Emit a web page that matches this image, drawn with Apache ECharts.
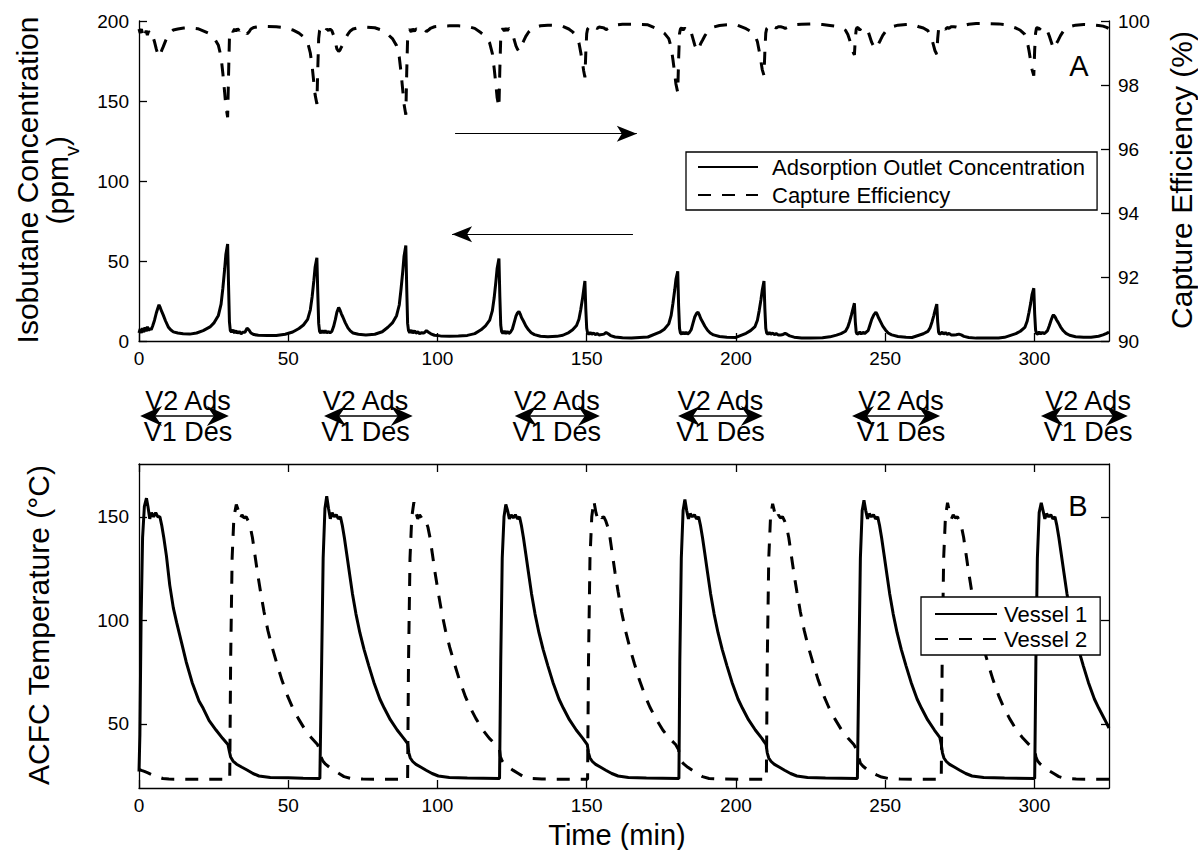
<!DOCTYPE html>
<html>
<head>
<meta charset="utf-8">
<script src="https://cdn.jsdelivr.net/npm/echarts@6.0.0/dist/echarts.min.js"></script>
<style>html,body{margin:0;padding:0;background:#fff}#c{width:1198px;height:850px}</style>
</head>
<body>
<div id="c"></div>
<script>
const FONT = '"Liberation Sans", Arial, Helvetica, sans-serif';

// ---- tick labels ----
const timeTicks = [0, 50, 100, 150, 200, 250, 300];
const concTicks = [0, 50, 100, 150, 200];
const effTicks = [90, 92, 94, 96, 98, 100];
const tempTicks = [50, 100, 150];

// ---- panel A: adsorption outlet concentration (ppmv) [time, value] ----
const adsorptionOutlet = [
[0,5],[0.4,7.5],[0.8,5],[1.2,8],[1.6,5.5],[2,8.5],[2.4,6],[2.8,9],[3.2,6.5],[3.6,8],[4.1,7],[4.6,9.5],[5.2,13],[5.8,17.5],[6.3,20.5],[6.7,22.6],[7.1,21],[7.6,18.5],[8.1,16.3],[8.9,12.5],[9.8,8.8],[10.6,7],[11.5,5.7],[13,5],[14.8,4.6],[17,4.3],
[19.3,5],[21.5,6.5],[23.8,8.8],[25.2,11.5],[26.6,16],[27.5,23],[28.1,33],[28.7,45],[29.1,54],[29.7,60.6],[30,35],[30.3,12],[30.6,6.5],[31,5.5],[31.5,7],[32,5],[32.5,6.5],[33,4.8],[33.6,6],[34.2,4.5],[34.8,5.5],[35.5,5.5],[36.2,8],[36.8,7],[37.5,5],[38.5,4],[40,3.6],[43,3.4],[46,3.5],
[49,4.2],[51.5,5.6],[53.6,7.8],[55.1,10],[56.5,13.5],[57.4,19.5],[58,27.5],[58.6,38],[59,46],[59.6,52],[59.9,30],[60.2,11],[60.5,6],[60.9,5],[61.4,6.5],[61.9,5],[62.4,6.5],[62.9,5],[63.5,6],[64,5],[64.6,6],[65.2,9],[65.8,13.5],[66.3,18],[66.9,21],[67.3,19.5],[67.8,17],[68.3,15],[69.1,11.5],[70,8.2],[70.8,6.3],[71.7,5],[73.5,4.2],[76,3.8],
[79,4.2],[81.5,5.8],[83.4,8.6],[84.9,11.3],[86.3,15.8],[87.2,22.5],[87.8,32.5],[88.4,44],[88.8,53],[89.4,59.7],[89.7,33],[90,11],[90.3,6.5],[90.7,5.2],[91.2,6.8],[91.7,5],[92.3,6.4],[92.8,4.8],[93.4,5.8],[94,4.6],[94.7,5.2],[95.5,5],[96.3,6.5],[97,5.5],[97.8,4.5],[99,3.6],[101,3.2],[104,3],[107,3.1],
[110,3.5],[112.5,4.6],[114.6,7],[116.1,9.5],[117.5,13],[118.4,19],[119,27],[119.6,37.5],[120,45.5],[120.6,51.6],[120.9,28],[121.2,10],[121.5,5.8],[121.9,4.8],[122.4,6.2],[122.9,4.6],[123.4,6],[123.9,4.7],[124.5,5.6],[125.1,7.5],[125.7,11.5],[126.3,15.5],[126.8,17.5],[127.3,18.5],[127.7,17],[128.2,14.5],[128.8,12.5],[129.6,9.5],[130.5,7],[131.4,5.2],[132.5,4],[134.5,3],[137,2.7],
[140,2.9],[142,3.6],[144,5.3],[145.3,7],[146.6,9.7],[147.4,13.6],[148,19.5],[148.6,26.5],[149,32],[149.4,37.5],[149.7,20],[150,8],[150.3,5],[150.7,4.2],[151.2,5.3],[151.7,4.2],[152.3,5],[152.9,4],[153.5,4.6],[154.2,3.8],[155,4],[155.8,4.3],[156.5,5.3],[157.2,4.5],[158,3.4],[159.5,2.5],[162,2],[165,1.9],
[170.5,2.5],[174.5,5.5],[176,7.4],[177.5,10.7],[178.3,16],[178.9,23.6],[179.5,32],[179.9,38.5],[180.5,43.5],[180.8,22],[181.1,8],[181.4,5],[181.8,4.3],[182.3,5.6],[182.8,4.3],[183.3,5.5],[183.8,4.4],[184.4,5.3],[185,7],[185.6,11],[186.2,15],[186.8,17.2],[187.3,18],[187.7,16.5],[188.2,14],[188.8,12],[189.6,9.2],[190.5,6.7],[191.4,5],[192.5,3.8],[194.5,2.8],[197,2.3],[200,2.2],
[203.4,4.8],[204.9,6.5],[206.4,9],[207.2,13],[207.8,19],[208.4,26],[208.8,31.5],[209.4,37.5],[209.7,20],[210,8],[210.3,5],[210.7,4.2],[211.2,5.3],[211.7,4.2],[212.3,5],[212.9,4],[213.5,4.6],[214.2,3.8],[215,3.8],[215.8,4.1],[216.5,4.8],[217.2,4.1],[218,3.2],[219.5,2.4],[222,1.9],[225,1.8],
[229,2],[231.5,2.6],[233.7,3.7],[235.2,4.6],[236.7,6.1],[237.5,8.7],[238.1,12.2],[238.7,16.3],[239.1,19.3],[239.7,23.6],[240,12],[240.3,5.5],[240.6,4.2],[241,4.6],[241.5,5.6],[242,4.4],[242.6,5.5],[243.1,4.6],[243.7,5.6],[244.3,6.5],[244.9,10],[245.5,13.5],[246.2,16.3],[246.9,18],[247.3,16.7],[247.8,14.5],[248.4,12.3],[249.2,9.3],[250.1,6.9],[251,5],[252.2,3.8],[254.3,2.8],[257,2.3],[259,2.2],
[261.3,3.6],[262.8,4.5],[264.3,6],[265.1,8.5],[265.7,11.9],[266.3,15.9],[266.7,19],[267.3,23],[267.6,12],[267.9,5.5],[268.2,4.2],[268.6,4.6],[269.1,5.5],[269.6,4.3],[270.2,5.3],[270.8,4.1],[271.4,4.8],[272.1,3.8],[273,3.7],[273.8,3.9],[274.7,4.3],[275.5,3.8],[276.4,2.9],[278,2.2],[280.5,1.8],[284,1.8],
[288,1.9],[290,2.3],[293.8,4.6],[295.3,6.1],[296.8,8.5],[297.6,12.5],[298.2,18],[298.8,24],[299.2,29],[299.8,33],[300.1,17],[300.4,7],[300.7,4.6],[301.1,4.4],[301.6,5.6],[302.1,4.4],[302.7,5.5],[303.2,4.5],[303.8,5.4],[304.4,6.5],[305,9.5],[305.6,13],[306.1,15.5],[306.4,16.3],[306.9,15.2],[307.4,13.3],[308,11.5],[308.8,8.7],[309.7,6.4],[310.6,4.8],[311.8,3.6],[313.8,2.7],[316.5,2.3],[319,2.4],[321.5,3],[323,3.8],[324.2,4.8],[325,5.5]
];

// ---- panel A: capture efficiency (%) [time, value] ----
const captureEfficiency = [
[0,99.75],[0.4,99.62],[0.8,99.75],[1.2,99.6],[1.6,99.73],[2,99.58],[2.4,99.7],[2.8,99.56],[3.2,99.68],[3.6,99.6],[4.1,99.65],[4.6,99.53],[5.2,99.35],[5.8,99.12],[6.3,98.97],[6.7,98.88],[7.1,98.95],[7.6,99.08],[8.1,99.19],[8.9,99.38],[9.8,99.56],[10.6,99.65],[11.5,99.72],[13,99.75],[15,99.78],[17,99.79],
[19.7,99.76],[21.5,99.69],[23.7,99.6],[25.2,99.47],[26.6,99.24],[27.5,98.88],[28.1,98.36],[28.7,97.76],[29.1,97.33],[29.7,96.99],[30,98.3],[30.3,99.45],[30.6,99.68],[31,99.73],[31.5,99.66],[32,99.75],[32.5,99.68],[33,99.76],[33.6,99.7],[34.2,99.77],[34.8,99.72],[35.5,99.72],[36.2,99.6],[36.8,99.65],[37.5,99.75],[38.5,99.8],[40,99.82],[43,99.83],[46,99.82],
[49,99.79],[51.5,99.72],[53.6,99.62],[55.1,99.51],[56.5,99.33],[57.4,99],[58,98.6],[58.6,98.06],[59,97.7],[59.6,97.41],[59.9,98.5],[60.2,99.45],[60.5,99.7],[60.9,99.75],[61.4,99.68],[61.9,99.75],[62.4,99.68],[62.9,99.75],[63.5,99.7],[64,99.75],[64.6,99.7],[65.2,99.55],[65.8,99.33],[66.3,99.13],[66.9,99.05],[67.3,99.08],[67.8,99.18],[68.3,99.27],[69.1,99.44],[70,99.59],[70.8,99.69],[71.7,99.75],[73.5,99.79],[76,99.81],
[79,99.79],[81.5,99.71],[83.4,99.58],[84.9,99.45],[86.3,99.23],[87.2,98.88],[87.8,98.39],[88.4,97.81],[88.8,97.4],[89.4,97.07],[89.7,98.4],[90,99.45],[90.3,99.68],[90.7,99.74],[91.2,99.66],[91.7,99.75],[92.3,99.68],[92.8,99.76],[93.4,99.71],[94,99.77],[94.7,99.74],[95.5,99.75],[96.3,99.67],[97,99.72],[97.8,99.78],[99,99.82],[101,99.84],[104,99.85],[107,99.85],
[110,99.83],[112.5,99.77],[114.6,99.63],[116.1,99.52],[117.5,99.31],[118.4,98.98],[119,98.52],[119.6,97.99],[120,97.6],[120.6,97.3],[120.9,98.5],[121.2,99.48],[121.5,99.71],[121.9,99.76],[122.4,99.69],[122.9,99.77],[123.4,99.7],[123.9,99.77],[124.5,99.72],[125.1,99.62],[125.7,99.42],[126.3,99.22],[126.8,99.12],[127.3,99.05],[127.7,99.13],[128.2,99.26],[128.8,99.36],[129.6,99.52],[130.5,99.65],[131.4,99.74],[132.5,99.8],[134.5,99.85],[137,99.87],
[140,99.86],[142,99.83],[144,99.75],[145.3,99.66],[146.6,99.53],[147.4,99.32],[148,99.02],[148.6,98.68],[149,98.44],[149.4,98.24],[149.7,99],[150,99.6],[150.3,99.75],[150.7,99.79],[151.2,99.73],[151.7,99.79],[152.3,99.75],[152.9,99.8],[153.5,99.77],[154.2,99.81],[155,99.8],[155.8,99.78],[156.5,99.73],[157.2,99.77],[158,99.83],[159.5,99.87],[162,99.9],[165,99.9],
[170.5,99.88],[174.5,99.72],[176,99.62],[177.5,99.45],[178.3,99.18],[178.9,98.79],[179.5,98.35],[179.9,98.03],[180.5,97.77],[180.8,98.8],[181.1,99.6],[181.4,99.75],[181.8,99.78],[182.3,99.72],[182.8,99.78],[183.3,99.72],[183.8,99.78],[184.4,99.73],[185,99.65],[185.6,99.45],[186.2,99.25],[186.8,99.12],[187.3,99.07],[187.7,99.17],[188.2,99.3],[188.8,99.4],[189.6,99.54],[190.5,99.66],[191.4,99.75],[192.5,99.81],[194.5,99.86],[197,99.88],[200,99.89],
[203.4,99.76],[204.9,99.68],[206.4,99.56],[207.2,99.35],[207.8,99.06],[208.4,98.73],[208.8,98.49],[209.4,98.3],[209.7,99.05],[210,99.62],[210.3,99.76],[210.7,99.8],[211.2,99.74],[211.7,99.8],[212.3,99.76],[212.9,99.81],[213.5,99.78],[214.2,99.82],[215,99.82],[215.8,99.8],[216.5,99.77],[217.2,99.8],[218,99.85],[219.5,99.88],[222,99.9],[225,99.91],
[229,99.89],[231.5,99.86],[233.7,99.83],[235.2,99.78],[236.7,99.71],[237.5,99.58],[238.1,99.41],[238.7,99.2],[239.1,99.06],[239.7,98.94],[240,99.45],[240.3,99.74],[240.6,99.8],[241,99.78],[241.5,99.72],[242,99.78],[242.6,99.73],[243.1,99.77],[243.7,99.72],[244.3,99.67],[244.9,99.5],[245.5,99.33],[246.2,99.2],[246.9,99.13],[247.3,99.18],[247.8,99.29],[248.4,99.4],[249.2,99.55],[250.1,99.67],[251,99.76],[252.2,99.82],[254.3,99.87],[257,99.89],[259,99.9],
[261.3,99.82],[262.8,99.78],[264.3,99.7],[265.1,99.58],[265.7,99.41],[266.3,99.21],[266.7,99.07],[267.3,98.96],[267.6,99.45],[267.9,99.74],[268.2,99.8],[268.6,99.78],[269.1,99.73],[269.6,99.79],[270.2,99.74],[270.8,99.8],[271.4,99.77],[272.1,99.82],[273,99.82],[273.8,99.81],[274.7,99.79],[275.5,99.82],[276.4,99.86],[278,99.9],[280.5,99.92],[284,99.92],
[288,99.91],[290,99.89],[293.8,99.78],[295.3,99.71],[296.8,99.58],[297.6,99.37],[298.2,99.07],[298.8,98.73],[299.2,98.49],[299.8,98.29],[300.1,99.1],[300.4,99.62],[300.7,99.78],[301.1,99.79],[301.6,99.73],[302.1,99.79],[302.7,99.73],[303.2,99.78],[303.8,99.74],[304.4,99.68],[305,99.53],[305.6,99.36],[306.1,99.22],[306.4,99.13],[306.9,99.2],[307.4,99.3],[308,99.4],[308.8,99.55],[309.7,99.68],[310.6,99.76],[311.8,99.82],[313.8,99.87],[316.5,99.89],[319,99.88],[321.5,99.86],[323,99.84],[324.2,99.8],[325,99.76]
];

// ---- panel B: ACFC temperature (deg C) [time, value] ----
const vessel1 = [
[0,27],[0.3,45],[0.7,100],[1.2,140],[1.8,155],[2.5,159],[3,155],[3.6,149],[4.2,152],[4.9,150],[5.6,152],[6.3,150],[7,150],[7.6,146],[8.3,140],[9.2,131],[10.3,117],[11.5,106],[12.6,99],[14.3,89],[15.8,80],[17.8,70],[20.1,61],[21.5,57.5],[23.5,51.5],[25.8,47],[28,43],[29.8,40],[30.3,36.5],[30.7,34],[31.5,32],[32.7,30.5],[34.5,29],[36.2,27.7],[38.2,26],[40.2,24.8],[44,24.1],[50,23.9],[55,23.7],[60.6,23.6],
[61.2,80],[61.7,130],[62.3,154],[62.9,160],[63.5,154],[64.1,149],[64.7,152],[65.4,150],[66.1,151],[66.8,149],[67.5,150],[68.1,146],[68.8,140],[69.6,132],[70.5,123],[71.5,113],[72.7,103],[74,94],[75.4,86],[77,78],[78.7,70],[80.7,62],[82.2,57.5],[84.2,52],[86.5,47],[88.7,43],[90,40.5],[90.4,36],[90.9,33.5],[91.7,31.8],[92.8,30.4],[94.5,29],[96.2,27.6],[98.2,26],[100.3,24.8],[104,24.1],[110,23.8],[120.8,23.6],
[121.2,80],[121.7,130],[122.3,150],[122.9,156],[123.5,153],[124.1,149],[124.7,151],[125.4,149.5],[126.1,151],[126.8,149],[127.5,150],[128.1,146],[128.8,140],[129.6,132],[130.5,123],[131.5,113],[132.7,103],[134,94],[135.4,86],[137,78],[138.7,70],[140.7,62],[142.2,57.5],[144.2,52],[146.5,47],[148.7,43],[150.2,40],[150.6,36],[151.1,33.5],[151.9,31.8],[153,30.4],[154.7,29],[156.4,27.6],[158.4,26],[160.5,24.8],[164,24.1],[170,23.8],[180.9,23.6],
[181.2,80],[181.7,130],[182.3,153],[182.9,158.4],[183.5,153],[184.1,149],[184.7,151.5],[185.4,150],[186.1,151],[186.8,149],[187.5,150],[188.1,146],[188.8,140],[189.6,132],[190.5,123],[191.5,113],[192.7,103],[194,94],[195.4,86],[197,78],[198.7,70],[200.7,62],[202.2,57.5],[204.2,52],[206.5,47],[208.7,43],[210.1,40],[210.5,36],[211,33.5],[211.8,31.8],[212.9,30.4],[214.6,29],[216.3,27.6],[218.3,26],[220.4,24.8],[224,24.1],[230,23.8],[240.7,23.6],
[241.2,80],[241.7,130],[242.3,153],[242.9,158],[243.5,153],[244.1,149],[244.7,151.5],[245.4,150],[246.1,151],[246.8,149],[247.5,150],[248.1,146],[248.8,140],[249.6,132],[250.5,123],[251.5,113],[252.7,103],[254,94],[255.4,86],[257,78],[258.7,70],[260.7,62],[262.2,57.5],[264.2,52],[266.5,47],[268.3,43.5],[268.8,40],[269.2,36],[269.7,33.5],[270.5,31.8],[271.6,30.4],[273.3,29],[275,27.6],[277,26],[279.1,24.8],[283,24.1],[290,23.8],[300.1,23.6],
[300.5,80],[301,130],[301.6,152],[302.3,156.8],[302.9,153],[303.5,149],[304.1,151.5],[304.8,150],[305.5,151],[306.2,149],[306.9,150],[307.5,146],[308.2,140],[309,132],[309.9,123],[310.9,113],[312.1,103],[313.4,94],[314.8,86],[316.4,78],[318.1,70],[320.1,62],[321.6,57.5],[323.6,52],[325,48]
];

const vessel2 = [
[0,28],[0.8,27.5],[1.8,27],[3,26.3],[4.5,25.3],[6,24.5],[8,23.6],[10,23.3],[20,23.2],[30.4,23.2],
[30.7,80],[31.2,130],[31.8,150],[32.6,155.9],[33.3,153],[33.9,149],[34.5,151],[35.2,149.5],[35.9,150],[36.6,148],[37.3,145],[38,140],[38.8,132],[39.7,123],[40.7,114],[41.9,104],[43.2,95],[44.6,87],[46.2,79],[47.9,71],[49.9,63],[51.4,58],[53.4,52.5],[55.7,47],[57.9,43],[59.8,40],[60.6,37.5],[61,34],[61.6,32],[62.5,30.5],[63.8,29],[65.3,27.5],[67,26],[68.7,24.5],[71,23.6],[75,23.3],[90,23.2],
[90.3,80],[90.8,130],[91.4,150],[92.1,157],[92.8,152],[93.4,149],[94,151],[94.7,149.5],[95.4,150],[96.1,148],[96.8,145],[97.5,140],[98.3,132],[99.2,123],[100.2,114],[101.4,104],[102.7,95],[104.1,87],[105.7,79],[107.4,71],[109.4,63],[110.9,58],[112.9,52.5],[115.2,47],[117.4,43],[119.5,40],[120.8,37.5],[121.1,34],[121.7,32],[122.6,30.5],[123.9,29],[125.4,27.5],[127.1,26],[128.8,24.5],[131,23.6],[135,23.3],[150.3,23.2],
[150.6,80],[151.1,130],[151.7,150],[152.4,157.7],[153.1,152],[153.7,149],[154.3,151],[155,149.5],[155.7,150],[156.4,148],[157.1,145],[157.8,140],[158.6,132],[159.5,123],[160.5,114],[161.7,104],[163,95],[164.4,87],[166,79],[167.7,71],[169.7,63],[171.2,58],[173.2,52.5],[175.5,47],[177.7,43],[179.8,40],[180.8,37.5],[181.1,34],[181.7,32],[182.6,30.5],[183.9,29],[185.4,27.5],[187.1,26],[188.8,24.5],[191,23.6],[195,23.3],[210.2,23.2],
[210.5,80],[211,130],[211.6,150],[212.3,156.3],[213,152],[213.6,149],[214.2,151],[214.9,149.5],[215.6,150],[216.3,148],[217,145],[217.7,140],[218.5,132],[219.4,123],[220.4,114],[221.6,104],[222.9,95],[224.3,87],[225.9,79],[227.6,71],[229.6,63],[231.1,58],[233.1,52.5],[235.4,47],[237.6,43],[239.5,40],[240.7,37],[241.1,34],[241.7,31],[242.6,29.5],[243.9,28],[245.4,26.5],[247.1,25.3],[248.8,24.3],[251,23.6],[255,23.3],[268.8,23.2],
[269.1,80],[269.6,130],[270.2,150],[270.9,156.8],[271.6,152],[272.2,149],[272.8,151],[273.5,149.5],[274.2,150],[274.9,148],[275.6,145],[276.3,140],[277.1,132],[278,123],[279,114],[280.2,104],[281.5,95],[282.9,87],[284.5,79],[286.2,71],[288.2,63],[289.7,58],[291.7,52.5],[294,47],[296.2,43],[298.5,39.5],[300.2,37],[300.5,34],[301.1,32],[302,30.5],[303.3,29],[304.8,27.5],[306.5,26],[308.2,24.5],[310.4,23.6],[314,23.3],[325,23.2]
];

// ---- annotations (time positions) ----
const flowArrowRight = [[105.9, 129.6], [166.8, 129.6]];
const flowArrowLeft = [[165.5, 66.7], [104.9, 66.7]];
const cycleArrowStart = [0.4, 62, 125.9, 180.6, 238.9, 302.2];
const cycleArrowEnd = [30.1, 91.7, 154.4, 209, 268.4, 331.3];
const cycleLabelCenter = [16.4, 75.9, 140, 194.8, 255.3, 318];

const AX = {color: '#000', width: 1.3};
const lab = (m, show) => ({show: show !== false, color: '#000', fontSize: 19, fontFamily: FONT, margin: m});

function xAx(grid, pos, showLab, m) {
  return {type: 'value', gridIndex: grid, position: pos, min: 0, max: 325,
    axisLine: {show: true, onZero: false, lineStyle: AX},
    axisTick: {show: true, inside: true, length: 8, lineStyle: AX, customValues: timeTicks},
    axisLabel: Object.assign(lab(m, showLab), {customValues: timeTicks}),
    splitLine: {show: false}};
}
function yAx(grid, pos, min, max, ticks, showLab, m) {
  return {type: 'value', gridIndex: grid, position: pos, min: min, max: max,
    axisLine: {show: true, onZero: false, lineStyle: AX},
    axisTick: {show: true, inside: true, length: 8, lineStyle: AX, customValues: ticks},
    axisLabel: Object.assign(lab(m, showLab), {customValues: ticks}),
    splitLine: {show: false}};
}

const legendBase = {
  orient: 'vertical', selectedMode: false, borderColor: '#000', borderWidth: 1.3,
  backgroundColor: '#fff', itemHeight: 14,
  itemStyle: {opacity: 0},
  textStyle: {color: '#000', fontSize: 22, fontFamily: FONT}
};

const option = {
  animation: false,
  backgroundColor: '#fff',
  grid: [
    {left: 139, right: 89, top: 21, height: 320},
    {left: 139, right: 89, top: 464, height: 324}
  ],
  xAxis: [
    xAx(0, 'bottom', true, 8),
    xAx(1, 'bottom', true, 8),
    xAx(1, 'top', false, 8)
  ],
  yAxis: [
    yAx(0, 'left', 0, 200, concTicks, true, 10),
    yAx(0, 'right', 90, 100, effTicks, true, 9),
    yAx(1, 'left', 19, 175.5, tempTicks, true, 10),
    yAx(1, 'right', 19, 175.5, tempTicks, false, 9)
  ],
  legend: [
    Object.assign({}, legendBase, {
      data: ['Adsorption Outlet Concentration', 'Capture Efficiency'],
      left: 686, top: 152, itemWidth: 60, itemGap: 6, padding: [4, 12, 4, 11],
      textStyle: Object.assign({}, legendBase.textStyle, {padding: [0, 0, 0, 9]})
    }),
    Object.assign({}, legendBase, {
      data: ['Vessel 1', 'Vessel 2'],
      left: 921, top: 597, itemWidth: 62, itemGap: 3, padding: [6, 13, 5, 13],
      textStyle: Object.assign({}, legendBase.textStyle, {padding: [0, 0, 0, 2]})
    })
  ],
  series: [
    {name: 'Adsorption Outlet Concentration', type: 'line', xAxisIndex: 0, yAxisIndex: 0,
     data: adsorptionOutlet, symbol: 'none', lineStyle: {color: '#000', width: 3}, itemStyle: {color: '#000'}, z: 3},
    {name: 'Capture Efficiency', type: 'line', xAxisIndex: 0, yAxisIndex: 1,
     data: captureEfficiency, symbol: 'none', lineStyle: {color: '#000', width: 3, type: [13, 11]}, itemStyle: {color: '#000'}, z: 3},
    {name: 'Vessel 1', type: 'line', xAxisIndex: 1, yAxisIndex: 2,
     data: vessel1, symbol: 'none', lineStyle: {color: '#000', width: 3}, itemStyle: {color: '#000'}, z: 3},
    {name: 'Vessel 2', type: 'line', xAxisIndex: 1, yAxisIndex: 2,
     data: vessel2, symbol: 'none', lineStyle: {color: '#000', width: 3, type: [13, 11]}, itemStyle: {color: '#000'}, z: 3},
    {name: 'arrows', type: 'line', xAxisIndex: 0, yAxisIndex: 0, data: [], symbol: 'none',
     markLine: {silent: true, symbol: ['none', 'arrow'], symbolSize: [12, 20], label: {show: false},
       lineStyle: {color: '#000', width: 1.2, type: 'solid'},
       data: [
         [{coord: flowArrowRight[0]}, {coord: flowArrowRight[1]}],
         [{coord: flowArrowLeft[0]}, {coord: flowArrowLeft[1]}]
       ]}}
  ]
};

const chart = echarts.init(document.getElementById('c'), null, {renderer: 'svg', width: 1198, height: 850});
chart.setOption(option);

const tx = t => chart.convertToPixel({xAxisIndex: 0}, t);
const txt = (text, x, y, size, rot) => ({type: 'text', x: x, y: y, rotation: rot || 0, silent: true,
  style: {text: text, fontSize: size, fontFamily: FONT, fill: '#000', align: 'center', verticalAlign: 'middle'}});

const g = [];
g.push(txt('Isobutane Concentration', 27, 180, 30, Math.PI / 2));
g.push({type: 'text', x: 62, y: 180, rotation: Math.PI / 2, silent: true,
  style: {text: '{a|(ppm}{s|v}{a|)}{sp| }', fontFamily: FONT, fill: '#000', align: 'center', verticalAlign: 'middle',
    rich: {a: {fontSize: 30, lineHeight: 30, verticalAlign: 'top', fontFamily: FONT},
           s: {fontSize: 20, lineHeight: 20, verticalAlign: 'bottom', fontFamily: FONT},
           sp: {fontSize: 2, lineHeight: 40}}}});
g.push(txt('Capture Efficiency (%)', 1181, 180, 30, Math.PI / 2));
g.push(txt('ACFC Temperature (\u00B0C)', 38, 625, 30, Math.PI / 2));
g.push(txt('Time (min)', 617, 835, 29));
g.push(txt('A', 1079, 66, 29));
g.push(txt('B', 1078, 506, 29));

const ay = 416;
for (let i = 0; i < cycleArrowStart.length; i++) {
  const x1 = tx(cycleArrowStart[i]), x2 = tx(cycleArrowEnd[i]), xc = tx(cycleLabelCenter[i]);
  g.push({type: 'line', silent: true, shape: {x1: x1 + 8, y1: ay, x2: x2 - 8, y2: ay}, style: {stroke: '#000', lineWidth: 1.5}});
  g.push({type: 'polygon', silent: true, shape: {points: [[x1, ay], [x1 + 22, ay - 10], [x1 + 15, ay], [x1 + 22, ay + 10]]}, style: {fill: '#000'}});
  g.push({type: 'polygon', silent: true, shape: {points: [[x2, ay], [x2 - 22, ay - 10], [x2 - 15, ay], [x2 - 22, ay + 10]]}, style: {fill: '#000'}});
  g.push(txt('V2 Ads', xc, 401, 27));
  g.push(txt('V1 Des', xc, 432, 27));
}
chart.setOption({graphic: g});
</script>
</body>
</html>
